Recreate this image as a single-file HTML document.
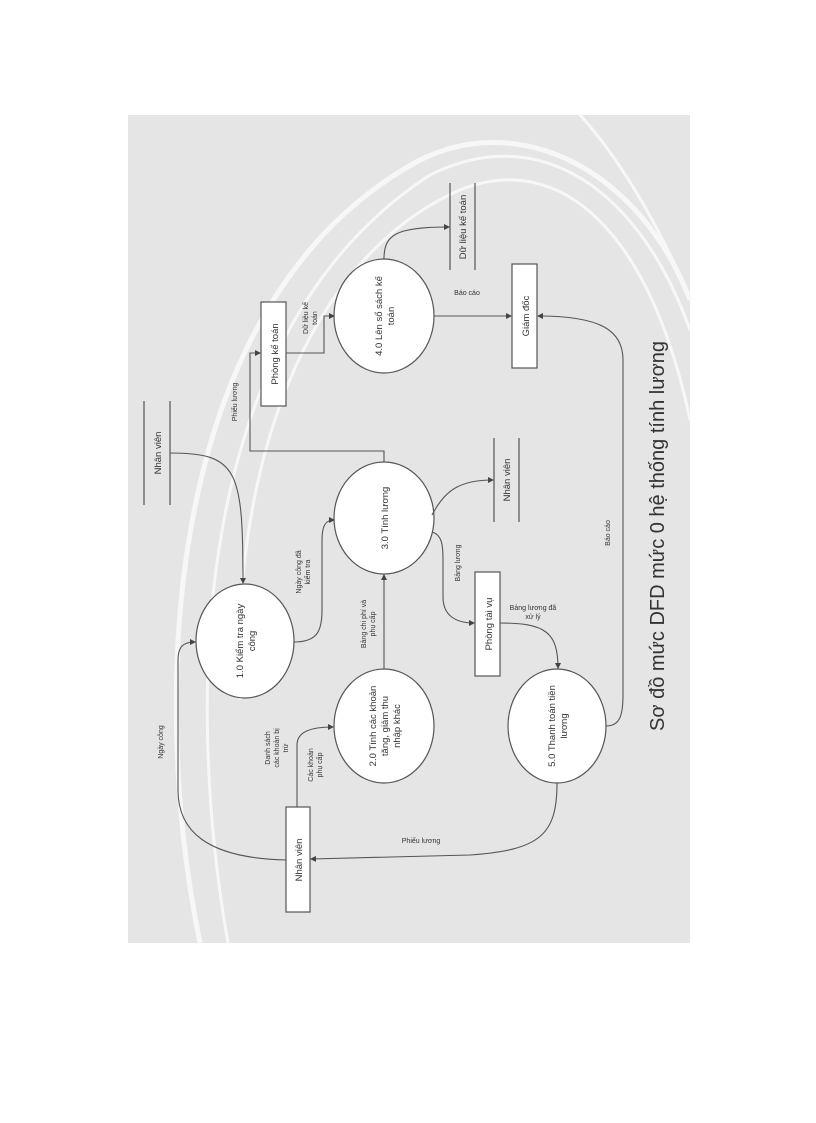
<!DOCTYPE html>
<html><head><meta charset="utf-8"><style>
html,body{margin:0;padding:0;background:#fff;}
svg{display:block;}
text{font-family:"Liberation Sans",sans-serif;fill:#333;}
</style></head><body>
<svg width="816" height="1123" viewBox="0 0 816 1123" xmlns="http://www.w3.org/2000/svg">
<defs>
<marker id="a" markerWidth="6" markerHeight="6" refX="5" refY="3" orient="auto" markerUnits="userSpaceOnUse"><path d="M0,0 L6,3 L0,6 Z" fill="#444"/></marker>
</defs>
<rect x="128" y="115" width="562" height="828" fill="#e5e5e5"/>
<g fill="none" stroke="#fafafa" stroke-width="5" opacity="0.9">
<path d="M200,943 C150,700 160,300 420,160 C520,110 640,170 690,300"/>
<path d="M228,943 C185,700 190,330 430,175 C540,120 640,190 690,330" stroke-width="3"/>
<path d="M240,700 C230,480 300,260 460,190 C560,150 650,230 690,420" stroke-width="3"/>
<path d="M580,115 C630,170 670,250 690,300" stroke-width="3"/>
</g>
<g fill="#fff" stroke="#555" stroke-width="1.2">
<ellipse cx="245" cy="641" rx="49" ry="57"/>
<ellipse cx="384" cy="726" rx="50" ry="57"/>
<ellipse cx="557" cy="726" rx="49" ry="57"/>
<ellipse cx="384" cy="518" rx="50" ry="56"/>
<ellipse cx="384" cy="316" rx="50" ry="57"/>
<rect x="261" y="302" width="25" height="104"/>
<rect x="512" y="264" width="25" height="104"/>
<rect x="475" y="572" width="25" height="104"/>
<rect x="286" y="807" width="24" height="105"/>
</g>
<g stroke="#555" stroke-width="1.2">
<line x1="144" y1="401" x2="144" y2="505"/><line x1="170" y1="401" x2="170" y2="505"/>
<line x1="450" y1="183" x2="450" y2="270"/><line x1="475" y1="183" x2="475" y2="270"/>
<line x1="494" y1="438" x2="494" y2="522"/><line x1="519" y1="438" x2="519" y2="522"/>
</g>
<g fill="none" stroke="#555" stroke-width="1.1" marker-end="url(#a)">
<path d="M170,453 C238,453 243,470 243,583"/>
<path d="M294,642 C318,642 322,630 322,610 V540 C322,525 326,520 334,520"/>
<path d="M384,669 V575"/>
<path d="M384,462 V451 H250 V353 H260"/>
<path d="M286,353 H324 V316 H334"/>
<path d="M384,259 C384,235 395,227 449,227"/>
<path d="M434,316 H511"/>
<path d="M606,726 C620,726 623,715 623,695 V360 C623,330 600,316 538,316"/>
<path d="M432,515 C445,490 460,480 493,480"/>
<path d="M432,532 C442,535 443,545 443,560 V597 C443,615 455,623 474,623"/>
<path d="M500,623 C545,623 558,632 558,668"/>
<path d="M557,783 C557,835 540,850 470,855 L311,859"/>
<path d="M286,860 C205,858 178,830 178,790 V660 C178,648 182,642 195,642"/>
<path d="M297,807 V745 C297,732 310,727 333,727"/>
</g>
<g font-size="9.5" text-anchor="middle">
<text transform="translate(245,641) rotate(-90)"><tspan x="0" y="-2">1.0 Kiểm tra ngày</tspan><tspan x="0" y="10">công</tspan></text>
<text transform="translate(384,726) rotate(-90)"><tspan x="0" y="-8">2.0 Tính các khoản</tspan><tspan x="0" y="4">tăng, giảm thu</tspan><tspan x="0" y="16">nhập khác</tspan></text>
<text transform="translate(557,726) rotate(-90)"><tspan x="0" y="-2">5.0 Thanh toán tiền</tspan><tspan x="0" y="10">lương</tspan></text>
<text transform="translate(384,518) rotate(-90)"><tspan x="0" y="4">3.0 Tính lương</tspan></text>
<text transform="translate(384,316) rotate(-90)"><tspan x="0" y="-2">4.0 Lên sổ sách kế</tspan><tspan x="0" y="10">toán</tspan></text>
<text transform="translate(274,354) rotate(-90)" y="4">Phòng kế toán</text>
<text transform="translate(525,316) rotate(-90)" y="4">Giám đốc</text>
<text transform="translate(488,624) rotate(-90)" y="4">Phòng tài vụ</text>
<text transform="translate(298,860) rotate(-90)" y="4">Nhân viên</text>
<text transform="translate(157,453) rotate(-90)" y="4">Nhân viên</text>
<text transform="translate(462,227) rotate(-90)" y="4">Dữ liệu kế toán</text>
<text transform="translate(506,480) rotate(-90)" y="4">Nhân viên</text>
</g>
<g font-size="7" text-anchor="middle" fill="#444">
<text transform="translate(303,572) rotate(-90)"><tspan x="0" y="-2">Ngày công đã</tspan><tspan x="0" y="7">kiểm tra</tspan></text>
<text transform="translate(368,624) rotate(-90)"><tspan x="0" y="-2">Bảng chi phí và</tspan><tspan x="0" y="7">phụ cấp</tspan></text>
<text transform="translate(458,563) rotate(-90)" y="2">Bảng lương</text>
<text x="533" y="610">Bảng lương đã</text><text x="533" y="619">xử lý</text>
<text transform="translate(276,748) rotate(-90)"><tspan x="0" y="-6">Danh sách</tspan><tspan x="0" y="3">các khoản bị</tspan><tspan x="0" y="12">trừ</tspan></text>
<text transform="translate(315,765) rotate(-90)"><tspan x="0" y="-2">Các khoản</tspan><tspan x="0" y="7">phụ cấp</tspan></text>
<text transform="translate(161,742) rotate(-90)" y="2">Ngày công</text>
<text x="421" y="843">Phiếu lương</text>
<text transform="translate(235,402) rotate(-90)" y="2">Phiếu lương</text>
<text transform="translate(310,318) rotate(-90)"><tspan x="0" y="-2">Dữ liệu kế</tspan><tspan x="0" y="7">toán</tspan></text>
<text x="467" y="295">Báo cáo</text>
<text transform="translate(608,533) rotate(-90)" y="2">Báo cáo</text>
</g>
<text transform="translate(657,536) rotate(-90)" y="7" font-size="20" text-anchor="middle" fill="#222">Sơ đồ mức DFD mức 0 hệ thống tính lương</text>
</svg>
</body></html>
